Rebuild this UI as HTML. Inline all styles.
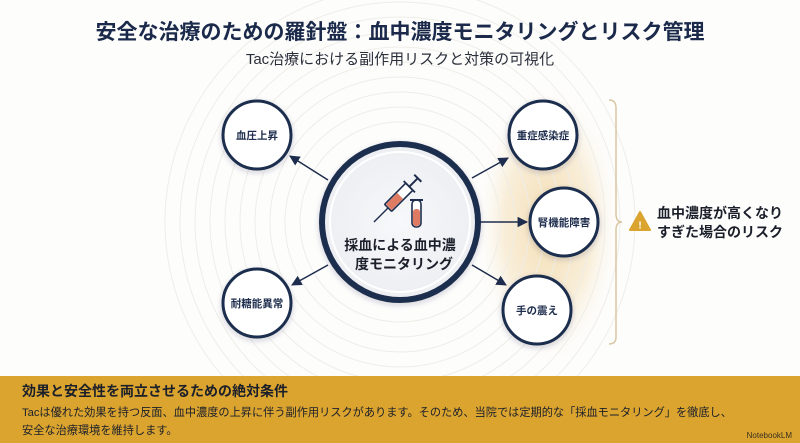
<!DOCTYPE html>
<html><head><meta charset="utf-8">
<style>
html,body{margin:0;padding:0;width:800px;height:443px;overflow:hidden;background:#fdfdfc;font-family:"Liberation Sans","Noto Sans CJK JP",sans-serif;}
svg{position:absolute;left:0;top:0;display:block}
</style></head><body>
<svg width="800" height="443" viewBox="0 0 800 443" xmlns="http://www.w3.org/2000/svg">
<defs>
<radialGradient id="glow" cx="0.5" cy="0.5" r="0.5">
<stop offset="0" stop-color="#f2d9a8" stop-opacity="0.9"/>
<stop offset="0.6" stop-color="#f6e4c2" stop-opacity="0.6"/>
<stop offset="1" stop-color="#fdfdfc" stop-opacity="0"/>
</radialGradient>
<radialGradient id="cg" cx="0.5" cy="0.5" r="0.5">
<stop offset="0" stop-color="#f7f8fa"/><stop offset="1" stop-color="#eceef2"/>
</radialGradient>
<marker id="ar" viewBox="0 0 10 10" refX="9" refY="5" markerWidth="7" markerHeight="7" orient="auto"><path d="M0,0 L10,5 L0,10 z" fill="#1e2d4d"/></marker>
<filter id="sh" x="-30%" y="-30%" width="160%" height="160%"><feDropShadow dx="0" dy="2" stdDeviation="3" flood-color="#1e2d4d" flood-opacity="0.2"/></filter>
</defs>
<ellipse cx="548" cy="225" rx="75" ry="145" fill="url(#glow)"/>
<g fill="none" stroke="#efede7" stroke-width="1">
<circle cx="400" cy="222" r="100"/><circle cx="400" cy="222" r="115"/><circle cx="400" cy="222" r="130"/>
<circle cx="400" cy="222" r="145"/><circle cx="400" cy="222" r="160"/><circle cx="400" cy="222" r="175"/>
<circle cx="400" cy="222" r="190"/><circle cx="400" cy="222" r="205"/><circle cx="400" cy="222" r="220"/>
<circle cx="400" cy="222" r="235"/>
</g>
<text x="400" y="39" text-anchor="middle" font-size="21" font-weight="bold" fill="#1b2a4a">安全な治療のための羅針盤：血中濃度モニタリングとリスク管理</text>
<text x="400" y="64" text-anchor="middle" font-size="15" fill="#2a2f3a">Tac治療における副作用リスクと対策の可視化</text>
<g stroke="#1e2d4d" stroke-width="1.5" marker-end="url(#ar)">
<line x1="328" y1="180" x2="290" y2="156"/>
<line x1="328" y1="265" x2="292" y2="285"/>
<line x1="472" y1="178" x2="508" y2="158"/>
<line x1="480" y1="222" x2="527" y2="222"/>
<line x1="472" y1="265" x2="506" y2="285"/>
</g>
<circle cx="400" cy="222" r="78" fill="url(#cg)" stroke="#1e2d4d" stroke-width="6" filter="url(#sh)"/>
<circle cx="400" cy="222" r="70" fill="none" stroke="#fff" stroke-width="2"/>
<g transform="translate(398,198) rotate(-45)">
<rect x="-14" y="-5" width="30" height="10" rx="1" fill="#fff" stroke="#1e2d4d" stroke-width="1.6"/>
<rect x="-13" y="-4" width="16" height="8" fill="#e07b63"/>
<line x1="-14" y1="0" x2="-34" y2="0" stroke="#1e2d4d" stroke-width="1.4"/>
<line x1="16" y1="0" x2="28" y2="0" stroke="#1e2d4d" stroke-width="2"/>
<line x1="28" y1="-5" x2="28" y2="5" stroke="#1e2d4d" stroke-width="2"/>
<line x1="16" y1="-8" x2="16" y2="8" stroke="#1e2d4d" stroke-width="1.8"/>
</g>
<rect x="412" y="200" width="9" height="27" rx="4" fill="#fff" stroke="#1e2d4d" stroke-width="1.6"/>
<rect x="413" y="209" width="7" height="17" rx="3" fill="#e07b63"/>
<line x1="410" y1="200" x2="423" y2="200" stroke="#1e2d4d" stroke-width="2"/>
<text x="400" y="250" text-anchor="middle" font-size="14" font-weight="bold" fill="#1b1f2a">採血による血中濃</text>
<text x="404" y="269" text-anchor="middle" font-size="14" font-weight="bold" fill="#1b1f2a">度モニタリング</text>
<g fill="#fff" stroke="#1e2d4d" stroke-width="3" filter="url(#sh)">
<circle cx="257" cy="135" r="34"/><circle cx="257" cy="303" r="34"/>
<circle cx="543" cy="135" r="34"/><circle cx="564" cy="222" r="34"/><circle cx="537" cy="310" r="34"/>
</g>
<g font-size="10.5" font-weight="bold" fill="#1e2d4d" text-anchor="middle">
<text x="257" y="139">血圧上昇</text>
<text x="257" y="307">耐糖能異常</text>
<text x="543" y="139">重症感染症</text>
<text x="564" y="226">腎機能障害</text>
<text x="537" y="314">手の震え</text>
</g>
<path d="M609,100 Q616,100 616,108 L616,214 Q616,222 622,222 Q616,222 616,230 L616,337 Q616,344 609,344" fill="none" stroke="#d8c7a3" stroke-width="1.5"/>
<path d="M640,212 L650,230 L630,230 Z" fill="#dba42f" stroke="#dba42f" stroke-width="2" stroke-linejoin="round"/>
<text x="640" y="228.5" text-anchor="middle" font-size="10" font-weight="bold" fill="#fff">!</text>
<text x="657" y="218" font-size="14" font-weight="bold" fill="#1b1f2a">血中濃度が高くなり</text>
<text x="657" y="237" font-size="14" font-weight="bold" fill="#1b1f2a">すぎた場合のリスク</text>
<rect x="0" y="376" width="800" height="67" fill="#dba42f"/>
<text x="22" y="396" font-size="14" font-weight="bold" fill="#1b1f2a">効果と安全性を両立させるための絶対条件</text>
<text x="22" y="416" font-size="11.2" fill="#1b1f2a">Tacは優れた効果を持つ反面、血中濃度の上昇に伴う副作用リスクがあります。そのため、当院では定期的な「採血モニタリング」を徹底し、</text>
<text x="22" y="434" font-size="11.2" fill="#1b1f2a">安全な治療環境を維持します。</text>
<text x="792" y="438" text-anchor="end" font-size="8" fill="#3a3020">NotebookLM</text>
</svg>
</body></html>
